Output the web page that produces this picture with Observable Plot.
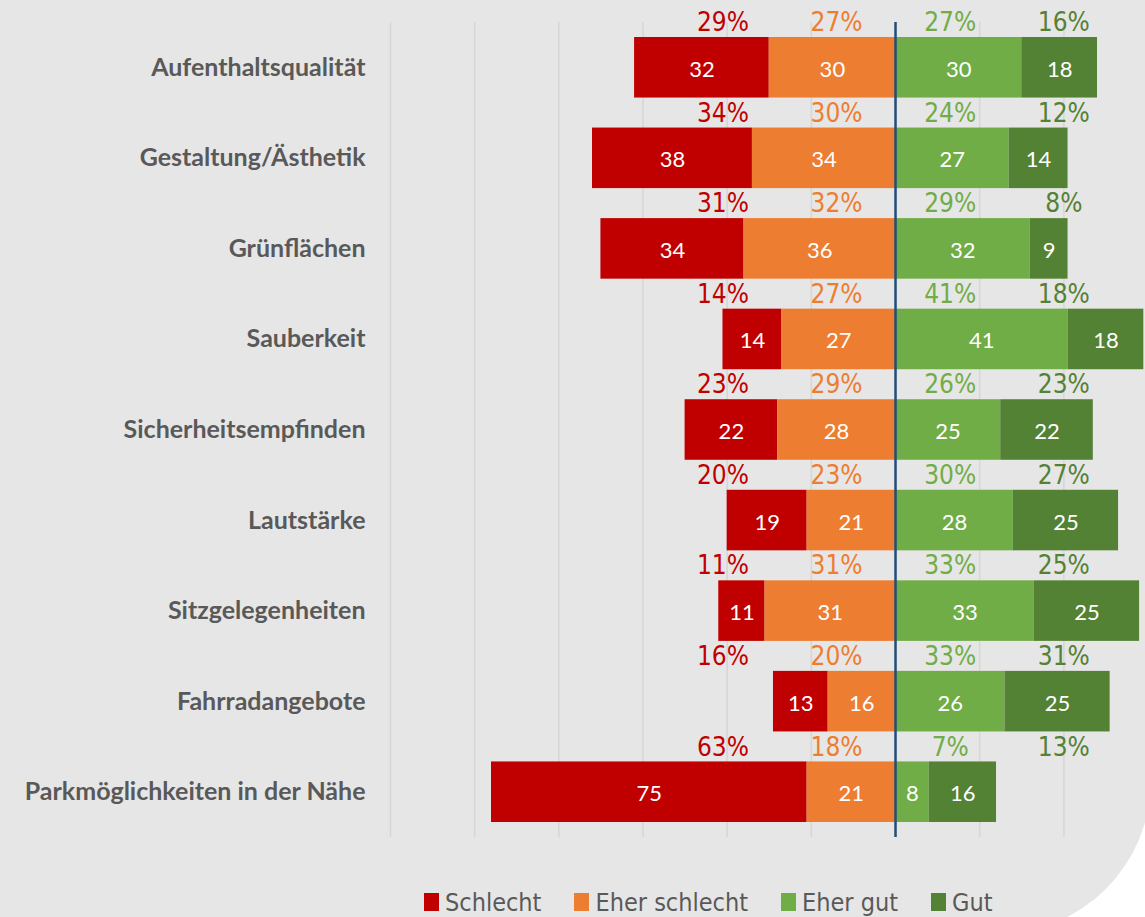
<!DOCTYPE html>
<html>
<head>
<meta charset="utf-8">
<script src="https://cdn.jsdelivr.net/npm/d3@7"></script>
<script src="https://cdn.jsdelivr.net/npm/@observablehq/plot@0.6"></script>
<style>
  html, body { margin: 0; padding: 0; background: #ffffff; overflow: hidden; width: 1145px; height: 917px; }
  #bg { position: absolute; left: 0; top: 0; width: 1151px; height: 934px; background: #e7e6e6; border-bottom-right-radius: 154px; }
  #chart { position: absolute; left: 0; top: 0; }
  #legend { position: absolute; left: 424px; top: 880px; height: 44px; display: flex; align-items: center; }
  #legend > div { font-family: "Liberation Sans Narrow", "DejaVu Sans Condensed", sans-serif !important; font-size: 25px !important; color: #595959 !important; min-height: 44px !important; background: transparent; margin: 0 !important; }
  #legend span { margin-right: 33px !important; }
  #legend span > svg { margin-right: 6px !important; }
  #chart g[aria-label="y-axis tick label"] text { font-family: Lato, "Open Sans", sans-serif; font-weight: bold; font-size: 25px; fill: #595959; }
</style>
</head>
<body>
<div id="bg"></div>
<div id="chart"></div>
<div id="legend"></div>
<script>
// ---- data ----
const categories = [
  "Aufenthaltsqualität",
  "Gestaltung/Ästhetik",
  "Grünflächen",
  "Sauberkeit",
  "Sicherheitsempfinden",
  "Lautstärke",
  "Sitzgelegenheiten",
  "Fahrradangebote",
  "Parkmöglichkeiten in der Nähe"
];
const seriesNames = ["Schlecht", "Eher schlecht", "Eher gut", "Gut"];
const seriesColors = ["#c00000", "#ed7d31", "#70ad47", "#548235"];

// counts (bar values)
const schlecht     = [32, 38, 34, 14, 22, 19, 11, 13, 75];
const eherSchlecht = [30, 34, 36, 27, 28, 21, 31, 16, 21];
const eherGut      = [30, 27, 32, 41, 25, 28, 33, 26, 8];
const gut          = [18, 14, 9, 18, 22, 25, 25, 25, 16];

// percentages (labels above bars)
const pctSchlecht     = [29, 34, 31, 14, 23, 20, 11, 16, 63];
const pctEherSchlecht = [27, 30, 32, 27, 29, 23, 31, 20, 18];
const pctEherGut      = [27, 24, 29, 41, 26, 30, 33, 33, 7];
const pctGut          = [16, 12, 8, 18, 23, 27, 25, 31, 13];

const gridTicks = [-120, -100, -80, -60, -40, -20, 20, 40];

// ---- derived tables ----
const segs = [];
categories.forEach((c, i) => {
  segs.push({cat: c, series: "Schlecht", x1: -(eherSchlecht[i] + schlecht[i]), x2: -eherSchlecht[i], v: schlecht[i]});
  segs.push({cat: c, series: "Eher schlecht", x1: -eherSchlecht[i], x2: 0, v: eherSchlecht[i]});
  segs.push({cat: c, series: "Eher gut", x1: 0, x2: eherGut[i], v: eherGut[i]});
  segs.push({cat: c, series: "Gut", x1: eherGut[i], x2: eherGut[i] + gut[i], v: gut[i]});
});

// percentage label columns (fixed column per series, in x-scale units)
const pctColumn = {"Schlecht": -41, "Eher schlecht": -14, "Eher gut": 13, "Gut": 40};
const pcts = [];
categories.forEach((c, i) => {
  pcts.push({cat: c, series: "Schlecht", p: pctSchlecht[i]});
  pcts.push({cat: c, series: "Eher schlecht", p: pctEherSchlecht[i]});
  pcts.push({cat: c, series: "Eher gut", p: pctEherGut[i]});
  pcts.push({cat: c, series: "Gut", p: pctGut[i]});
});

const narrow = "'Liberation Sans Narrow', 'DejaVu Sans Condensed', sans-serif";

const chart = Plot.plot({
  width: 1145,
  height: 850,
  marginLeft: 390,
  marginRight: 0,
  marginTop: 22,
  marginBottom: 13,
  style: {background: "transparent", overflow: "visible"},
  x: {domain: [-120, 59.4], axis: null},
  y: {domain: categories, padding: 0, round: false, axis: null},
  color: {domain: seriesNames, range: seriesColors},
  marks: [
    Plot.ruleX(gridTicks, {stroke: "#d6d6d6", strokeWidth: 1.5}),
    Plot.barX(segs, {x1: "x1", x2: "x2", y: "cat", fill: "series", insetTop: 15, insetBottom: 15}),
    Plot.text(segs, {
      x: d => (d.x1 + d.x2) / 2, y: "cat", text: d => String(d.v),
      fill: "white", fontSize: 22, fontFamily: "Lato, 'Open Sans', sans-serif", dy: 2
    }),
    Plot.text(pcts, {
      x: d => pctColumn[d.series], y: "cat", text: d => d.p + "%",
      fill: "series", fontSize: 26, fontFamily: narrow, dy: -45
    }),
    Plot.ruleX([0], {stroke: "#1f4e79", strokeWidth: 2.5}),
    Plot.axisY({tickSize: 0, tickPadding: 25, label: null, fontSize: 25})
  ]
});
document.getElementById("chart").appendChild(chart);

const legend = Plot.legend({
  legend: "swatches",
  color: {domain: seriesNames, range: seriesColors},
  swatchWidth: 15,
  swatchHeight: 18,
  className: "lg"
});
document.getElementById("legend").appendChild(legend);
</script>
</body>
</html>
